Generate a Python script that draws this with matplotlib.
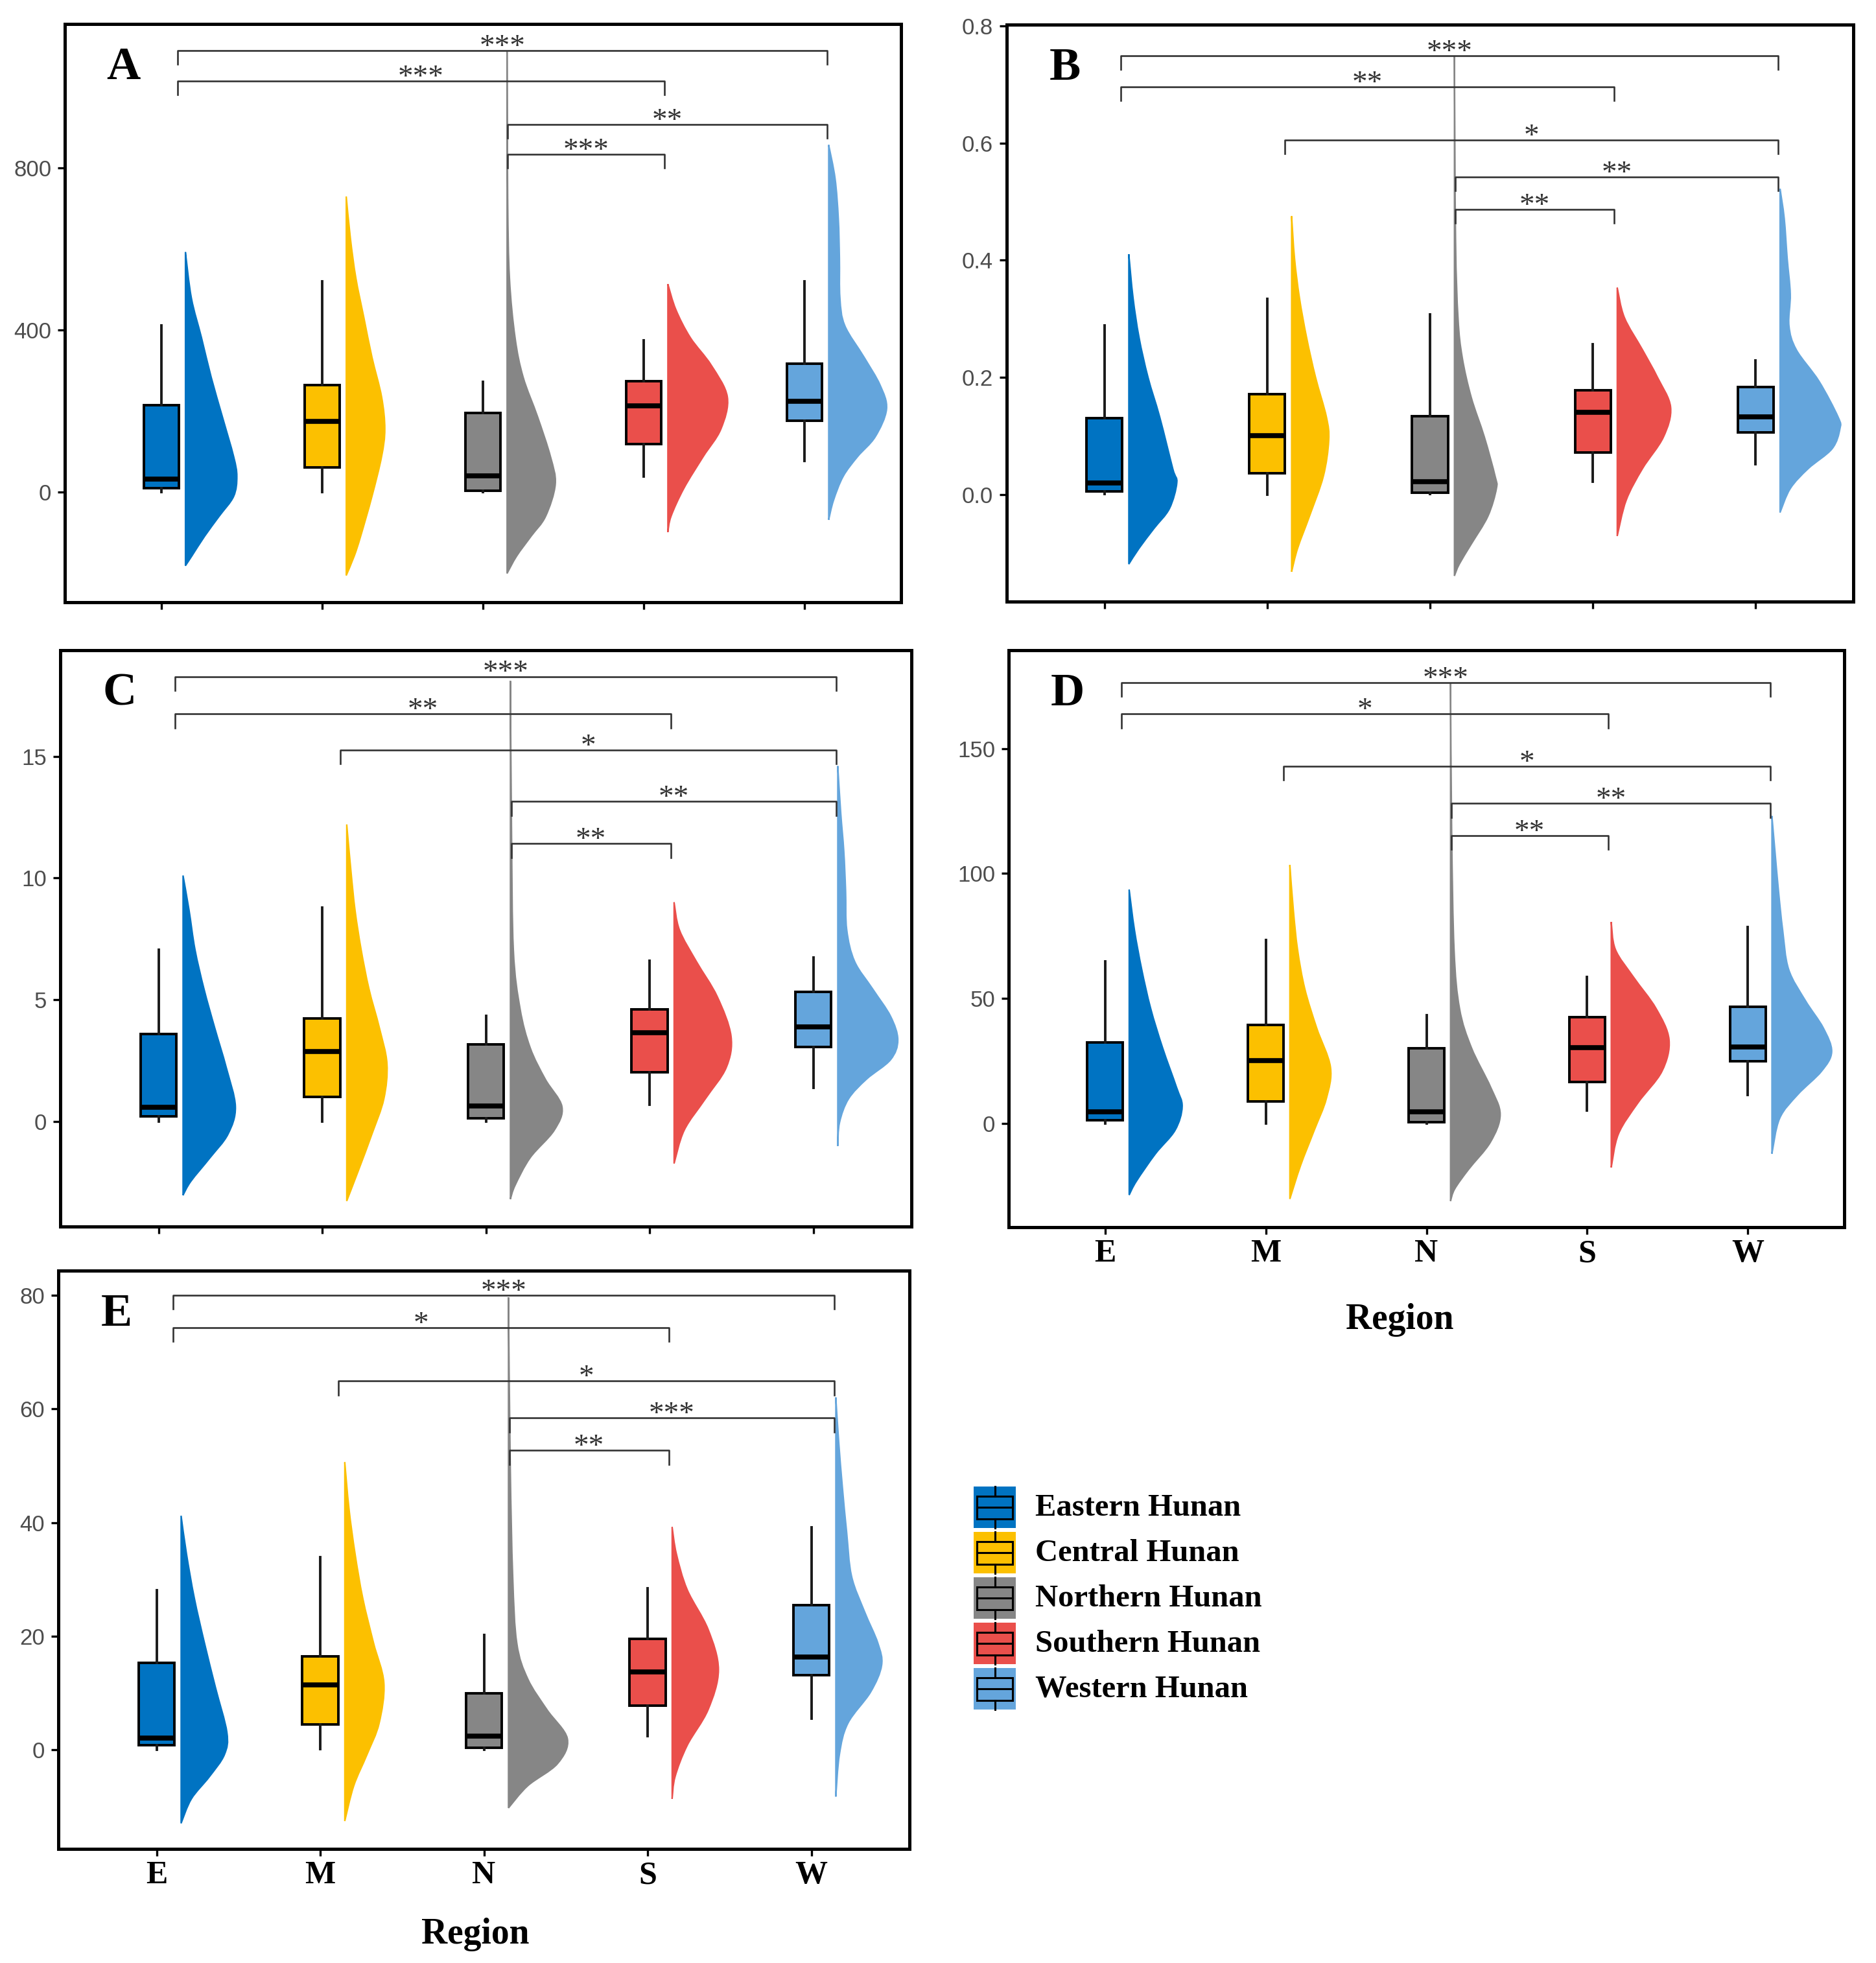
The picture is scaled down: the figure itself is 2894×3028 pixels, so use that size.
import matplotlib
matplotlib.use("Agg")
import matplotlib.pyplot as plt
from matplotlib.path import Path
from matplotlib.patches import PathPatch, Rectangle

plt.rcParams['font.family'] = ['Liberation Sans', 'DejaVu Sans']
SERIF = ['Liberation Serif', 'DejaVu Serif']

REGIONS = ['E', 'M', 'N', 'S', 'W']
REGION_NAMES = ['Eastern Hunan', 'Central Hunan', 'Northern Hunan', 'Southern Hunan', 'Western Hunan']
COLORS = ['#0073C2', '#FCC000', '#868686', '#EA4F4B', '#64A5DC']

# ---- box statistics: whisker low, Q1, median, Q3, whisker high ----
A_BOX = {'E': [0, 10, 33, 215, 411], 'M': [0, 61, 174, 264, 520], 'N': [0, 4, 41, 196, 272],
         'S': [39, 119, 213, 274, 374], 'W': [78, 176, 225, 317, 520]}
B_BOX = {'E': [0.001, 0.005, 0.020, 0.130, 0.288], 'M': [0.0, 0.036, 0.100, 0.171, 0.334],
         'N': [0.001, 0.003, 0.022, 0.134, 0.307], 'S': [0.022, 0.071, 0.140, 0.178, 0.256],
         'W': [0.052, 0.106, 0.132, 0.183, 0.229]}
C_BOX = {'E': [0, 0.19, 0.57, 3.58, 7.06], 'M': [0, 1.0, 2.86, 4.23, 8.78], 'N': [0, 0.11, 0.63, 3.15, 4.34],
         'S': [0.68, 2.02, 3.63, 4.60, 6.60], 'W': [1.37, 3.05, 3.87, 5.31, 6.73]}
D_BOX = {'E': [0, 1.3, 4.7, 32.4, 64.9], 'M': [0, 8.8, 25.1, 39.3, 73.5], 'N': [0, 0.5, 4.7, 30.0, 43.2],
         'S': [5.2, 16.7, 30.3, 42.6, 58.6], 'W': [11.5, 24.8, 30.6, 46.8, 78.5]}
E_BOX = {'E': [0, 0.8, 2.1, 15.3, 28.1], 'M': [0.2, 4.5, 11.4, 16.5, 33.9], 'N': [0, 0.4, 2.4, 10.0, 20.2],
         'S': [2.4, 7.8, 13.7, 19.5, 28.4], 'W': [5.5, 13.1, 16.4, 25.5, 39.2]}

# ---- half-violin outlines: (value, half width in category units) ----
A_VIOLIN = {
    'E': ([592, 479, 381, 284, 186, 88, 39, -10, -59, -108, -157, -181],
          [0, .037, .10, .16, .23, .30, .32, .30, .21, .12, .04, 0]),
    'M': ([729, 626, 528, 430, 333, 235, 156, 88, -10, -108, -157, -205],
          [0, .026, .06, .11, .16, .22, .24, .22, .16, .09, .05, 0]),
    'N': ([1086, 724, 528, 381, 284, 186, 88, 20, -59, -108, -157, -200],
          [0, .004, .015, .05, .10, .19, .27, .30, .24, .15, .06, 0]),
    'S': ([513, 450, 381, 313, 235, 156, 88, 10, -59, -98],
          [0, .05, .14, .27, .37, .33, .22, .10, .02, 0]),
    'W': ([856, 773, 675, 577, 479, 411, 333, 264, 205, 137, 88, 39, -20, -68],
          [0, .04, .06, .067, .07, .10, .22, .32, .36, .29, .18, .09, .03, 0]),
}
B_VIOLIN = {
    'E': ([0.410, 0.336, 0.268, 0.2, 0.132, 0.044, 0.02, -0.024, -0.058, -0.092, -0.119],
          [0, .026, .063, .118, .19, .27, .295, .25, .155, .063, 0]),
    'M': ([0.475, 0.403, 0.336, 0.268, 0.2, 0.132, 0.092, 0.031, -0.037, -0.092, -0.132],
          [0, .018, .048, .092, .147, .214, .228, .195, .11, .037, 0]),
    'N': ([0.749, 0.437, 0.302, 0.234, 0.166, 0.098, 0.031, 0.01, -0.037, -0.085, -0.119, -0.139],
          [0, .007, .022, .048, .103, .184, .25, .258, .206, .103, .03, 0]),
    'S': ([0.353, 0.302, 0.247, 0.2, 0.149, 0.098, 0.044, -0.010, -0.071],
          [0, .044, .155, .247, .328, .284, .155, .055, 0]),
    'W': ([0.522, 0.471, 0.403, 0.342, 0.288, 0.247, 0.193, 0.132, 0.112, 0.078, 0.044, 0.010, -0.031],
          [0, .026, .044, .063, .055, .10, .24, .357, .368, .32, .173, .063, 0]),
}
C_VIOLIN = {
    'E': ([10.1, 8.67, 7.06, 5.44, 3.83, 2.21, 0.60, -0.53, -1.50, -2.47, -3.04],
          [0, .037, .073, .128, .194, .264, .32, .275, .165, .048, 0]),
    'M': ([12.2, 10.28, 8.67, 7.06, 5.44, 3.83, 2.37, 0.92, -0.53, -2.0, -3.28],
          [0, .026, .051, .088, .136, .2, .246, .227, .154, .073, 0]),
    'N': ([18.1, 11.9, 7.06, 4.63, 3.02, 1.73, 0.60, -0.37, -1.50, -2.63, -3.2],
          [0, .007, .018, .059, .121, .213, .315, .268, .121, .029, 0]),
    'S': ([9.0, 7.86, 6.57, 5.12, 3.50, 2.21, 0.92, -0.37, -1.74],
          [0, .033, .136, .264, .348, .319, .191, .062, 0]),
    'W': ([14.6, 12.7, 11.1, 9.48, 7.87, 6.57, 5.44, 4.31, 3.34, 2.53, 1.73, 0.92, -0.05, -1.02],
          [0, .018, .037, .048, .055, .103, .213, .323, .367, .323, .176, .066, .011, 0]),
}
D_VIOLIN = {
    'E': ([93.5, 77.4, 61.7, 46.0, 30.3, 14.6, 6.75, -2.7, -12.1, -23.1, -28.6],
          [0, .033, .078, .134, .208, .294, .33, .286, .164, .045, 0]),
    'M': ([103.4, 85.3, 69.6, 53.9, 38.2, 22.5, 9.9, -2.7, -16.8, -30.2],
          [0, .022, .048, .093, .167, .253, .227, .152, .067, 0]),
    'N': ([176, 116.7, 69.6, 46.0, 30.3, 14.6, 3.6, -7.4, -18.4, -26.2, -31],
          [0, .007, .022, .056, .13, .249, .309, .249, .112, .026, 0]),
    'S': ([80.6, 69.6, 58.6, 46.0, 33.5, 20.9, 8.3, -4.2, -17.6],
          [0, .026, .138, .279, .36, .316, .167, .045, 0]),
    'W': ([123, 108.9, 93.1, 77.4, 61.7, 49.2, 38.2, 28.7, 20.9, 11.5, 2.0, -12.1],
          [0, .019, .041, .067, .104, .208, .32, .372, .309, .16, .048, 0]),
}
E_VIOLIN = {
    'E': ([41.2, 34.5, 26.7, 18.8, 11.0, 3.1, -0.8, -4.7, -8.6, -12.9],
          [0, .033, .081, .143, .21, .28, .265, .173, .063, 0]),
    'M': ([50.6, 42.4, 34.5, 26.7, 18.8, 11.8, 4.7, -0.8, -6.3, -12.5],
          [0, .026, .063, .11, .176, .239, .21, .136, .055, 0]),
    'N': ([79.6, 50.2, 30.6, 18.8, 12.5, 7.1, 2.0, -2.4, -6.3, -10.2],
          [0, .011, .026, .051, .118, .235, .36, .30, .118, 0]),
    'S': ([39.2, 34.5, 28.2, 21.2, 14.1, 7.1, 0.8, -4.7, -8.6],
          [0, .026, .092, .22, .283, .22, .092, .018, 0]),
    'W': ([62.0, 54.1, 46.3, 38.4, 30.6, 24.3, 18.8, 14.9, 10.2, 4.7, -0.8, -8.2],
          [0, .018, .04, .066, .096, .176, .257, .28, .213, .074, .022, 0]),
}

# ---- significance brackets: (group 1, group 2, bar height, label) ----
A_SIG = [('E', 'W', 1089, '***'), ('E', 'S', 1014, '***'), ('N', 'W', 907, '**'), ('N', 'S', 833, '***')]
B_SIG = [('E', 'W', 0.749, '***'), ('E', 'S', 0.696, '**'), ('M', 'W', 0.605, '*'),
         ('N', 'W', 0.542, '**'), ('N', 'S', 0.487, '**')]
C_SIG = [('E', 'W', 18.28, '***'), ('E', 'S', 16.74, '**'), ('M', 'W', 15.26, '*'),
         ('N', 'W', 13.14, '**'), ('N', 'S', 11.41, '**')]
D_SIG = [('E', 'W', 176.4, '***'), ('E', 'S', 163.8, '*'), ('M', 'W', 142.9, '*'),
         ('N', 'W', 128.0, '**'), ('N', 'S', 115.1, '**')]
E_SIG = [('E', 'W', 80.0, '***'), ('E', 'S', 74.3, '*'), ('M', 'W', 64.9, '*'),
         ('N', 'W', 58.4, '***'), ('N', 'S', 52.7, '**')]

A_YTICKS = [0, 400, 800]
B_YTICKS = [0.0, 0.2, 0.4, 0.6, 0.8]
C_YTICKS = [0, 5, 10, 15]
D_YTICKS = [0, 50, 100, 150]
E_YTICKS = [0, 20, 40, 60, 80]

# bracket ends sit slightly right of each category
BRACKET_OFFSET = {'E': 0.10, 'M': 0.11, 'N': 0.155, 'S': 0.13, 'W': 0.14}
VIOLIN_SHIFT = 0.15
BOX_WIDTH = 0.22


def violin_patch(x0, ys, ws, color):
    # smooth outline passing through the read points (Catmull-Rom as cubic Bezier)
    pts = [(x0 + w, y) for y, w in zip(ys, ws)]
    n = len(pts)
    verts, codes = [pts[0]], [Path.MOVETO]
    for i in range(n - 1):
        p0 = pts[max(i - 1, 0)]
        p1, p2 = pts[i], pts[i + 1]
        p3 = pts[min(i + 2, n - 1)]
        c1 = (max(p1[0] + (p2[0] - p0[0]) / 6, x0), p1[1] + (p2[1] - p0[1]) / 6)
        c2 = (max(p2[0] - (p3[0] - p1[0]) / 6, x0), p2[1] - (p3[1] - p1[1]) / 6)
        verts += [c1, c2, p2]
        codes += [Path.CURVE4] * 3
    verts += [(x0, ys[-1]), (x0, ys[0]), pts[0]]
    codes += [Path.LINETO, Path.LINETO, Path.CLOSEPOLY]
    return PathPatch(Path(verts, codes), facecolor=color, edgecolor=color, lw=1.6, zorder=2)


def draw_panel(ax, letter, box, violin, sig, yticks, ylim, tick_fmt, show_x):
    positions = list(range(1, len(REGIONS) + 1))
    for pos, reg, col in zip(positions, REGIONS, COLORS):
        ys, ws = violin[reg]
        ax.add_patch(violin_patch(pos + VIOLIN_SHIFT, ys, ws, col))

    stats = []
    for reg in REGIONS:
        lo, q1, med, q3, hi = box[reg]
        stats.append({'whislo': lo, 'q1': q1, 'med': med, 'q3': q3, 'whishi': hi, 'fliers': []})
    bp = ax.bxp(stats, positions=positions, widths=BOX_WIDTH, patch_artist=True,
                showcaps=False, showfliers=False, manage_ticks=False,
                boxprops=dict(edgecolor='black', linewidth=2.8, zorder=3),
                whiskerprops=dict(color='#1a1a1a', linewidth=2.8, zorder=3),
                medianprops=dict(color='black', linewidth=5.5, solid_capstyle='butt', zorder=5))
    for patch, col in zip(bp['boxes'], COLORS):
        patch.set_facecolor(col)

    # significance brackets
    tip = (ylim[1] - ylim[0]) * 0.024
    for g1, g2, y, label in sig:
        x1 = REGIONS.index(g1) + 1 + BRACKET_OFFSET[g1]
        x2 = REGIONS.index(g2) + 1 + BRACKET_OFFSET[g2]
        ax.plot([x1, x1, x2, x2], [y - tip, y, y, y - tip], color='#333333', lw=1.9, zorder=4)
        ax.annotate(label, xy=((x1 + x2) / 2, y), xytext=(0, -5), textcoords='offset points',
                    ha='center', va='baseline', fontsize=34, family=SERIF,
                    color='#333333', zorder=5)

    ax.text(0.05, 0.905, letter, transform=ax.transAxes, fontsize=52, fontweight='bold',
            family=SERIF, ha='left', va='baseline')

    ax.set_xlim(0.4, 5.6)
    ax.set_ylim(*ylim)
    ax.set_yticks(yticks)
    ax.set_yticklabels([tick_fmt.format(t) for t in yticks])
    ax.set_xticks(positions)
    if show_x:
        ax.set_xticklabels(REGIONS, fontsize=36, fontweight='bold', family=SERIF)
    else:
        ax.set_xticklabels([])
    ax.tick_params(axis='both', direction='out', length=8, width=2.4, color='black')
    ax.tick_params(axis='y', labelsize=25, labelcolor='#4D4D4D', pad=7)
    ax.tick_params(axis='x', pad=5)
    for sp in ax.spines.values():
        sp.set_linewidth(3.6)
        sp.set_color('black')


fig = plt.figure(figsize=(28.94, 30.28), dpi=100)
W, H = 2894, 3028


def px_axes(left, top, right, bottom):
    return fig.add_axes([left / W, 1 - bottom / H, (right - left) / W, (bottom - top) / H])


ax_a = px_axes(100, 37, 1390, 929)
ax_b = px_axes(1553, 38, 2859, 928)
ax_c = px_axes(93, 1003, 1406, 1892)
ax_d = px_axes(1556, 1003, 2845, 1893)
ax_e = px_axes(90, 1960, 1403, 2852)

draw_panel(ax_a, 'A', A_BOX, A_VIOLIN, A_SIG, A_YTICKS, (-271, 1154), '{:.0f}', False)
draw_panel(ax_b, 'B', B_BOX, B_VIOLIN, B_SIG, B_YTICKS, (-0.183, 0.802), '{:.1f}', False)
draw_panel(ax_c, 'C', C_BOX, C_VIOLIN, C_SIG, C_YTICKS, (-4.33, 19.36), '{:.0f}', False)
draw_panel(ax_d, 'D', D_BOX, D_VIOLIN, D_SIG, D_YTICKS, (-41.5, 189.3), '{:.0f}', True)
draw_panel(ax_e, 'E', E_BOX, E_VIOLIN, E_SIG, E_YTICKS, (-17.4, 84.3), '{:.0f}', True)

ax_d.text(0.468, -0.176, 'Region', transform=ax_d.transAxes, ha='center', va='baseline',
          fontsize=40, fontweight='bold', family=SERIF)
ax_e.text(0.49, -0.164, 'Region', transform=ax_e.transAxes, ha='center', va='baseline',
          fontsize=40, fontweight='bold', family=SERIF)

# legend drawn in its own pixel-scaled axes
leg = px_axes(1490, 2260, 2000, 2660)
leg.set_xlim(0, 510)
leg.set_ylim(400, 0)
leg.axis('off')
for i, (name, col) in enumerate(zip(REGION_NAMES, COLORS)):
    cy = 65 + i * 70
    leg.add_patch(Rectangle((12, cy - 32), 65, 64, facecolor=col, edgecolor='none'))
    leg.add_patch(Rectangle((17, cy - 17.5), 55, 35, facecolor=col, edgecolor='black', lw=2.2))
    leg.plot([17, 72], [cy, cy], color='black', lw=2.2)
    leg.plot([44.5, 44.5], [cy - 32, cy - 17.5], color='black', lw=2.2)
    leg.plot([44.5, 44.5], [cy + 17.5, cy + 32], color='black', lw=2.2)
    leg.text(107, cy + 13, name, fontsize=35, fontweight='bold', family=SERIF,
             ha='left', va='baseline')

fig.savefig('out.png', dpi=100, facecolor='white')
